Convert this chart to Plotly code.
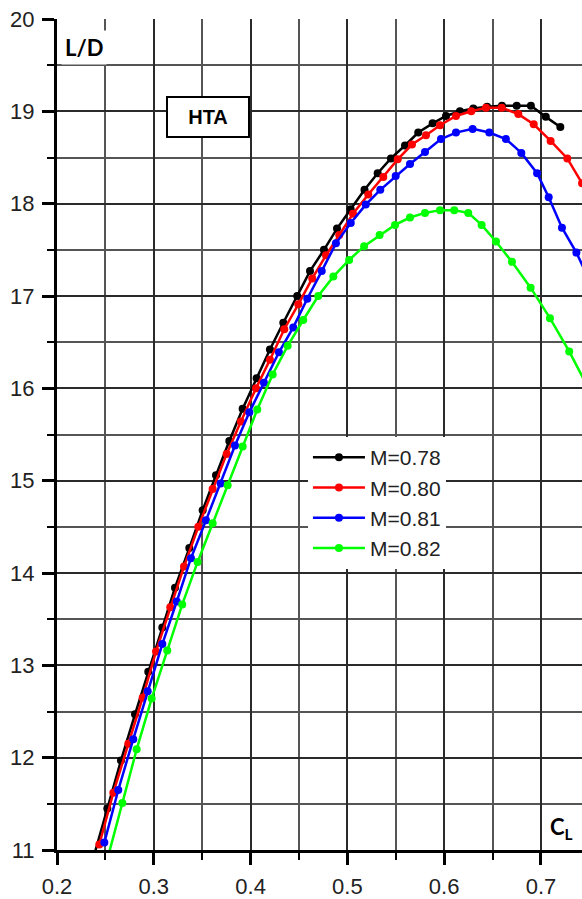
import plotly.graph_objects as go

# ---- data ----
cl_078 = [0.2380, 0.2520, 0.2661, 0.2806, 0.2943, 0.3088, 0.3219, 0.3367, 0.3505, 0.3643,
          0.3780, 0.3918, 0.4063, 0.4200, 0.4338, 0.4482, 0.4614, 0.4758, 0.4893, 0.5034,
          0.5177, 0.5313, 0.5450, 0.5595, 0.5732, 0.5881, 0.6019, 0.6163, 0.6301, 0.6443,
          0.6597, 0.6749, 0.6896, 0.7050, 0.7200]
ld_078 = [10.93, 11.45, 11.97, 12.47, 12.93, 13.41, 13.84, 14.27, 14.68, 15.06,
          15.43, 15.78, 16.11, 16.42, 16.71, 17.00, 17.27, 17.50, 17.73, 17.94,
          18.15, 18.33, 18.49, 18.63, 18.77, 18.87, 18.95, 19.00, 19.03, 19.05,
          19.06, 19.06, 19.06, 18.94, 18.83]

cl_080 = [0.2437, 0.2582, 0.2737, 0.2885, 0.3023, 0.3170, 0.3312, 0.3460, 0.3608, 0.3753,
          0.3900, 0.4056, 0.4200, 0.4348, 0.4493, 0.4637, 0.4779, 0.4916, 0.5058, 0.5216,
          0.5371, 0.5520, 0.5667, 0.5812, 0.5957, 0.6122, 0.6280, 0.6432, 0.6594, 0.6766,
          0.6925, 0.7100, 0.7272, 0.7425, 0.7580]
ld_080 = [11.06, 11.62, 12.15, 12.65, 13.15, 13.63, 14.07, 14.50, 14.91, 15.29,
          15.64, 16.00, 16.31, 16.64, 16.91, 17.19, 17.44, 17.66, 17.89, 18.10,
          18.29, 18.48, 18.64, 18.74, 18.85, 18.95, 19.00, 19.04, 19.04, 18.97,
          18.86, 18.68, 18.49, 18.22, 17.90]

cl_081 = [0.2489, 0.2633, 0.2788, 0.2937, 0.3088, 0.3237, 0.3384, 0.3539, 0.3691, 0.3839,
          0.3987, 0.4138, 0.4293, 0.4441, 0.4586, 0.4735, 0.4882, 0.5035, 0.5190, 0.5340,
          0.5499, 0.5647, 0.5802, 0.5967, 0.6122, 0.6294, 0.6466, 0.6638, 0.6797, 0.6960,
          0.7080, 0.7217, 0.7366, 0.7510]
ld_081 = [11.08, 11.65, 12.20, 12.72, 13.23, 13.69, 14.16, 14.57, 14.97, 15.38,
          15.74, 16.06, 16.39, 16.66, 16.97, 17.27, 17.57, 17.79, 17.99, 18.15,
          18.30, 18.43, 18.56, 18.70, 18.77, 18.81, 18.77, 18.70, 18.55, 18.33,
          18.07, 17.74, 17.47, 17.15]

cl_082 = [0.2528, 0.2675, 0.2823, 0.2978, 0.3139, 0.3294, 0.3453, 0.3608, 0.3763, 0.3918,
          0.4069, 0.4228, 0.4383, 0.4544, 0.4699, 0.4855, 0.5018, 0.5173, 0.5333, 0.5492,
          0.5647, 0.5802, 0.5957, 0.6104, 0.6249, 0.6387, 0.6535, 0.6700, 0.6893, 0.7093,
          0.7292, 0.7480]
ld_082 = [10.93, 11.51, 12.09, 12.64, 13.16, 13.66, 14.12, 14.54, 14.95, 15.37,
          15.77, 16.15, 16.46, 16.74, 17.00, 17.21, 17.39, 17.54, 17.66, 17.77,
          17.85, 17.90, 17.93, 17.93, 17.90, 17.77, 17.59, 17.37, 17.09, 16.76,
          16.40, 16.02]

series_names = ["M=0.78", "M=0.80", "M=0.81", "M=0.82"]
series_colors = ["#000000", "#ff0000", "#0000ff", "#00ff00"]
series_x = [cl_078, cl_080, cl_081, cl_082]
series_y = [ld_078, ld_080, ld_081, ld_082]

x_range = [0.2, 0.7424]
y_range = [11, 20]

FONT = "Liberation Sans, Arial, sans-serif"

fig = go.Figure()
for name, col, xs, ys in zip(series_names, series_colors, series_x, series_y):
    fig.add_trace(go.Scatter(
        x=xs, y=ys, name=name, mode="lines+markers",
        line=dict(color=col, width=2.5),
        marker=dict(color=col, size=8),
    ))

axis_common = dict(
    showline=True, linecolor="black", linewidth=3,
    ticks="outside", ticklen=12, tickwidth=2.5, tickcolor="black",
    showgrid=True, gridcolor="#2a2a2a", gridwidth=1.5,
    zeroline=False,
    tickfont=dict(family=FONT, size=22, color="#222222"),
)

fig.update_xaxes(
    range=x_range, tick0=0.2, dtick=0.1, tickformat=".1f",
    ticklabelstandoff=3,
    minor=dict(tick0=0.2, dtick=0.05, ticks="outside", ticklen=7, tickwidth=2,
               tickcolor="black", showgrid=True, gridcolor="#555555", gridwidth=1.5),
    **axis_common,
)
fig.update_yaxes(
    range=y_range, tick0=11, dtick=1,
    ticklabelstandoff=3,
    minor=dict(tick0=11, dtick=0.5, ticks="outside", ticklen=7, tickwidth=2,
               tickcolor="black", showgrid=True, gridcolor="#555555", gridwidth=1.5),
    **axis_common,
)

fig.add_annotation(
    xref="paper", yref="paper", x=0.0514, y=0.9654,
    xanchor="center", yanchor="middle",
    text="<b>L/D</b>", showarrow=False,
    font=dict(family="Lato, Open Sans, sans-serif", size=22, color="black"),
    bgcolor="white", borderpad=3,
)
fig.add_annotation(
    x=0.3555, y=18.937, xanchor="center", yanchor="middle",
    text="<b>HTA</b>", showarrow=False,
    font=dict(family=FONT, size=20, color="black"),
    bgcolor="white", bordercolor="black", borderwidth=2,
    width=78, height=36,
)
fig.add_annotation(
    x=0.7207, y=11.24, xanchor="center", yanchor="middle",
    text="<b>C<sub>L</sub></b>", showarrow=False,
    font=dict(family="Lato, Open Sans, sans-serif", size=22, color="black"),
)

fig.update_layout(
    width=582, height=899,
    margin=dict(l=57, r=0, t=19, b=42),
    plot_bgcolor="white", paper_bgcolor="white",
    showlegend=True,
    legend=dict(
        x=0.478, y=0.497, xanchor="left", yanchor="top",
        bgcolor="white", borderwidth=0,
        font=dict(family=FONT, size=21, color="#222222"),
        itemwidth=52, tracegroupgap=0,
    ),
)

fig.write_html("out.html")
